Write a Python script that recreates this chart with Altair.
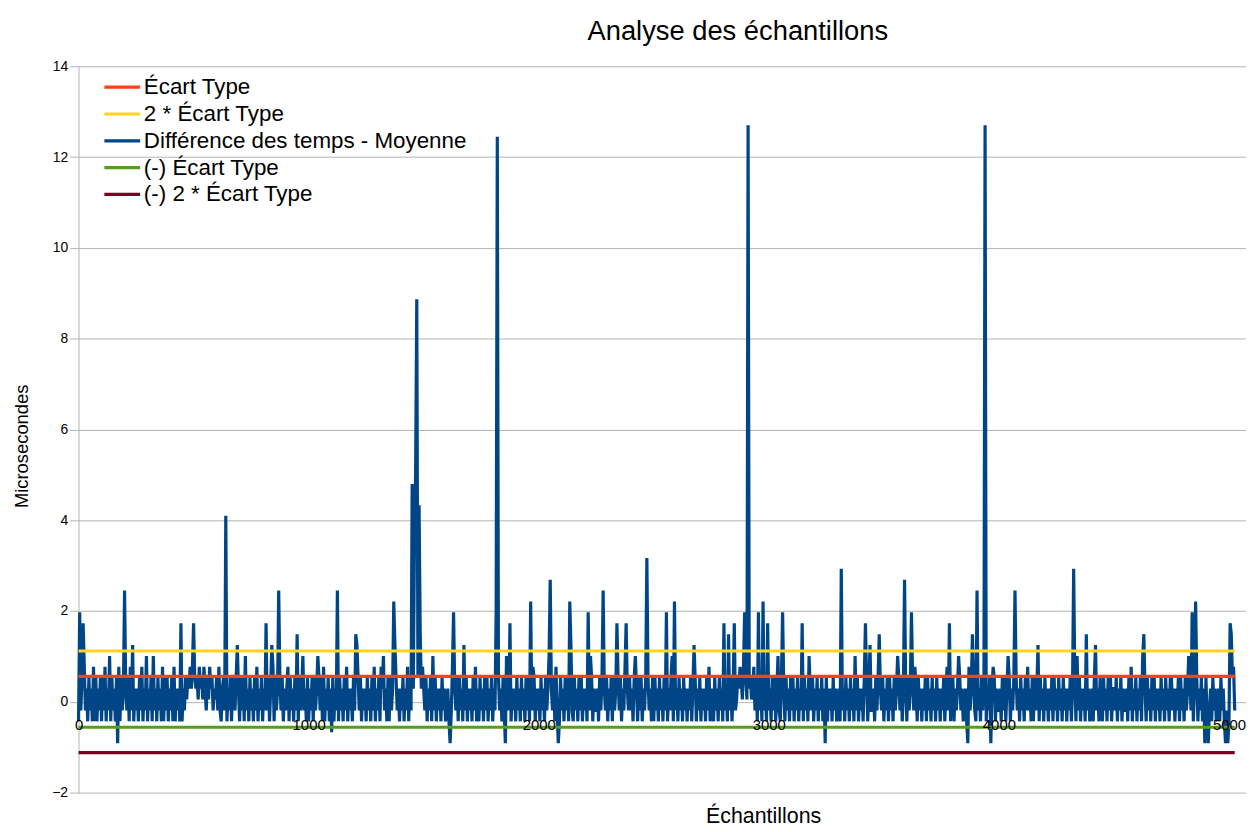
import altair as alt
import pandas as pd

TITLE = "Analyse des échantillons"
X_TITLE = "Échantillons"
Y_TITLE = "Microsecondes"

SERIES = ["Écart Type", "2 * Écart Type", "Différence des temps - Moyenne",
          "(-) Écart Type", "(-) 2 * Écart Type"]
COLORS = ["#ff420e", "#ffd320", "#004586", "#579d1c", "#7e0021"]
LINE_WIDTHS = [3.2, 3.2, 1.7, 3.2, 3.2]

HLINE_SERIES = ["Écart Type", "2 * Écart Type", "(-) Écart Type", "(-) 2 * Écart Type"]
HLINE_VALUES = [0.56, 1.12, -0.56, -1.12]

X_TICKS = [0, 1000, 2000, 3000, 4000, 5000]
Y_TICKS = [-2, 0, 2, 4, 6, 8, 10, 12, 14]

# one reading every 5 samples; each digit is a quantised level index
SAMPLE_STEP = 5
LEVELS = [-0.91, -0.67, -0.43, -0.19, 0.05, 0.29, 0.53, 0.77, 1.01, 1.25]
NOISE_CODES = [
    "2536273526" "3527262536" "2637253826" "3526172635" "2536273925",
    "3526372538" "2536283526" "3527263625" "3627253526" "2536465757",
    "4656475647" "5364756354" "6373256382" "5362653695" "2636283526",
    "3526372536" "2536362597" "2635263625" "3572635263" "5263583526",
    "2536263586" "3627253625" "1625362635" "2637253526" "3596362535",
    "2635263725" "3627583526" "2635296352" "5362537263" "5263526357",
    "5362536283" "6253526352" "3526372536" "2635293625" "3526372526",
    "3526362536" "2537263526" "3586362535" "2635263526" "3625376253",
    "5263526358" "2536273526" "3526362593" "2635263625" "3526386253",
    "3526362536" "2536263596" "3625372536" "3526852636" "2536263526",
    "2635263526" "3625368253" "5263526352" "5362596253" "6253526372",
    "3526352635" "2635263625" "5346576475" "6475645736" "2536263526",
    "3526362583" "2635263526" "3625362536" "2635285362" "5362536253",
    "6253526352" "3526352635" "2635283625" "3526362593" "3526362536",
    "2536263526" "3586362535" "2635263752" "6352536263" "5263526352",
    "5362573526" "6253586352" "3526735263" "2635263592" "5362576253",
    "3526362586" "2536263526" "3526373526" "2635926352" "6352536263",
    "5263526352" "5362536283" "6253526352" "3526935263" "2635263625",
    "5362536253" "3526372536" "2536283526" "3526362535" "2635263526",
    "6352536263" "5263586352" "5362536253" "6253526352" "3526352635",
    "253673",
]

# individually read excursions (sample index, value)
PEAK_SAMPLES = [5, 20, 170, 200, 445, 500, 640, 815, 870, 950,
                1125, 1205, 1370, 1450, 1455, 1460, 1465, 1470, 1475, 1480,
                1485, 1615, 1630, 1815, 1820, 1855, 1875, 1965, 2050, 2085,
                2135, 2215, 2280, 2340, 2380, 2470, 2555, 2590, 2805, 2825,
                2850, 2895, 2910, 2955, 2975, 2995, 3060, 3145, 3245, 3315,
                3420, 3480, 3590, 3620, 3785, 3865, 3885, 3905, 3940, 3965,
                4070, 4325, 4380, 4630, 4840, 4855, 4895, 4910, 4985, 4995,
                5005, 5010]
PEAK_VALUES = [1.97, 1.73, -0.91, 2.45, 1.73, 1.73, 4.10, 1.73, 2.45, 1.49,
               2.45, 1.49, 2.21, 4.80, 0.29, 3.63, 5.04, 8.87, 0.53, 4.33,
               1.49, -0.91, 1.97, 1.97, 12.45, -0.91, 1.73, 2.21, 2.69, -0.91,
               2.21, 1.97, 2.45, 1.73, 1.73, 3.17, 1.97, 2.21, 1.73, 1.49,
               1.73, 1.97, 12.70, 1.97, 2.21, 1.73, 1.97, 1.73, -0.91, 2.93,
               1.73, 1.49, 2.69, 1.97, 1.73, -0.91, 1.49, 2.45, 12.70, -0.91,
               2.45, 2.93, 1.49, 1.49, 1.97, 2.21, -0.91, -0.91, -0.91, -0.91,
               1.73, 1.49]

codes = "".join(NOISE_CODES)
values = [LEVELS[int(c)] for c in codes]
for s, v in zip(PEAK_SAMPLES, PEAK_VALUES):
    idx = s // SAMPLE_STEP
    if idx < len(values):
        values[idx] = v
xs = [i * SAMPLE_STEP for i in range(len(values))]
last_x = xs[-1]

noise_df = pd.DataFrame({"x": xs, "y": values, "series": SERIES[2]})
hl_rows = []
for name, val in zip(HLINE_SERIES, HLINE_VALUES):
    hl_rows.append({"x": 0, "y": val, "series": name})
    hl_rows.append({"x": last_x, "y": val, "series": name})
hl_df = pd.DataFrame(hl_rows)

PLOT_W = 1175
PLOT_H = 731
FONT = "Liberation Sans"
GRID = "#b3b3b3"

x_enc = alt.X(
    "x:Q",
    scale=alt.Scale(domain=[0, 5074], nice=False, zero=False),
    axis=alt.Axis(
        values=X_TICKS, format="d", grid=False, domain=False, ticks=False,
        tickSize=0, labelPadding=16, labelFlush=False, labelOverlap=False,
        labelFont=FONT, labelFontSize=15, labelColor="black", labelAngle=0,
        offset=-PLOT_H / 8, zindex=1,
        title=X_TITLE, titleFont=FONT, titleFontSize=21.5,
        titleFontWeight="normal", titleColor="black",
        titleX=689, titleY=121, titleBaseline="alphabetic", titleAlign="center",
    ),
)
y_enc = alt.Y(
    "y:Q",
    scale=alt.Scale(domain=[-2, 14], nice=False, zero=False),
    axis=alt.Axis(
        values=Y_TICKS, format="d", grid=True, gridColor=GRID, gridWidth=1,
        domain=True, domainColor=GRID, domainWidth=1,
        ticks=True, tickColor=GRID, tickSize=9, labelPadding=2,
        labelFont=FONT, labelFontSize=14, labelColor="black",
        title=Y_TITLE, titleFont=FONT, titleFontSize=18.5,
        titleFontWeight="normal", titleColor="black",
        titleX=-57, titleY=382, titleAngle=270,
        titleBaseline="middle", titleAlign="center",
    ),
)
color_enc = alt.Color(
    "series:N",
    scale=alt.Scale(domain=SERIES, range=COLORS),
    legend=alt.Legend(
        title=None, orient="none", legendX=26, legendY=9.75,
        direction="vertical",
        symbolType="M-3,0L3,0", symbolSize=144, symbolOffset=6.75,
        labelOffset=10.5, rowPadding=4, padding=0,
        labelFont=FONT, labelFontSize=22.5, labelColor="black", labelLimit=0,
    ),
)
sw_enc = alt.StrokeWidth(
    "series:N",
    scale=alt.Scale(domain=SERIES, range=LINE_WIDTHS),
)

noise_layer = alt.Chart(noise_df).mark_line().encode(
    x=x_enc, y=y_enc, color=color_enc, strokeWidth=sw_enc
)
hl_layer = alt.Chart(hl_df).mark_line().encode(
    x=x_enc, y=y_enc, color=color_enc, strokeWidth=sw_enc
)

chart = alt.layer(noise_layer, hl_layer).properties(
    width=PLOT_W,
    height=PLOT_H,
    title=alt.TitleParams(
        TITLE, font=FONT, fontSize=27.5, fontWeight="normal", color="black",
        anchor="middle", frame="group", dx=76, dy=34, offset=26,
        baseline="alphabetic",
    ),
    autosize=alt.AutoSizeParams(type="none"),
    padding={"left": 71, "top": 56, "right": 0, "bottom": 38},
    background="white",
).configure_view(stroke=None)

chart.save("out.html", embed_options={"renderer": "svg", "actions": False})
